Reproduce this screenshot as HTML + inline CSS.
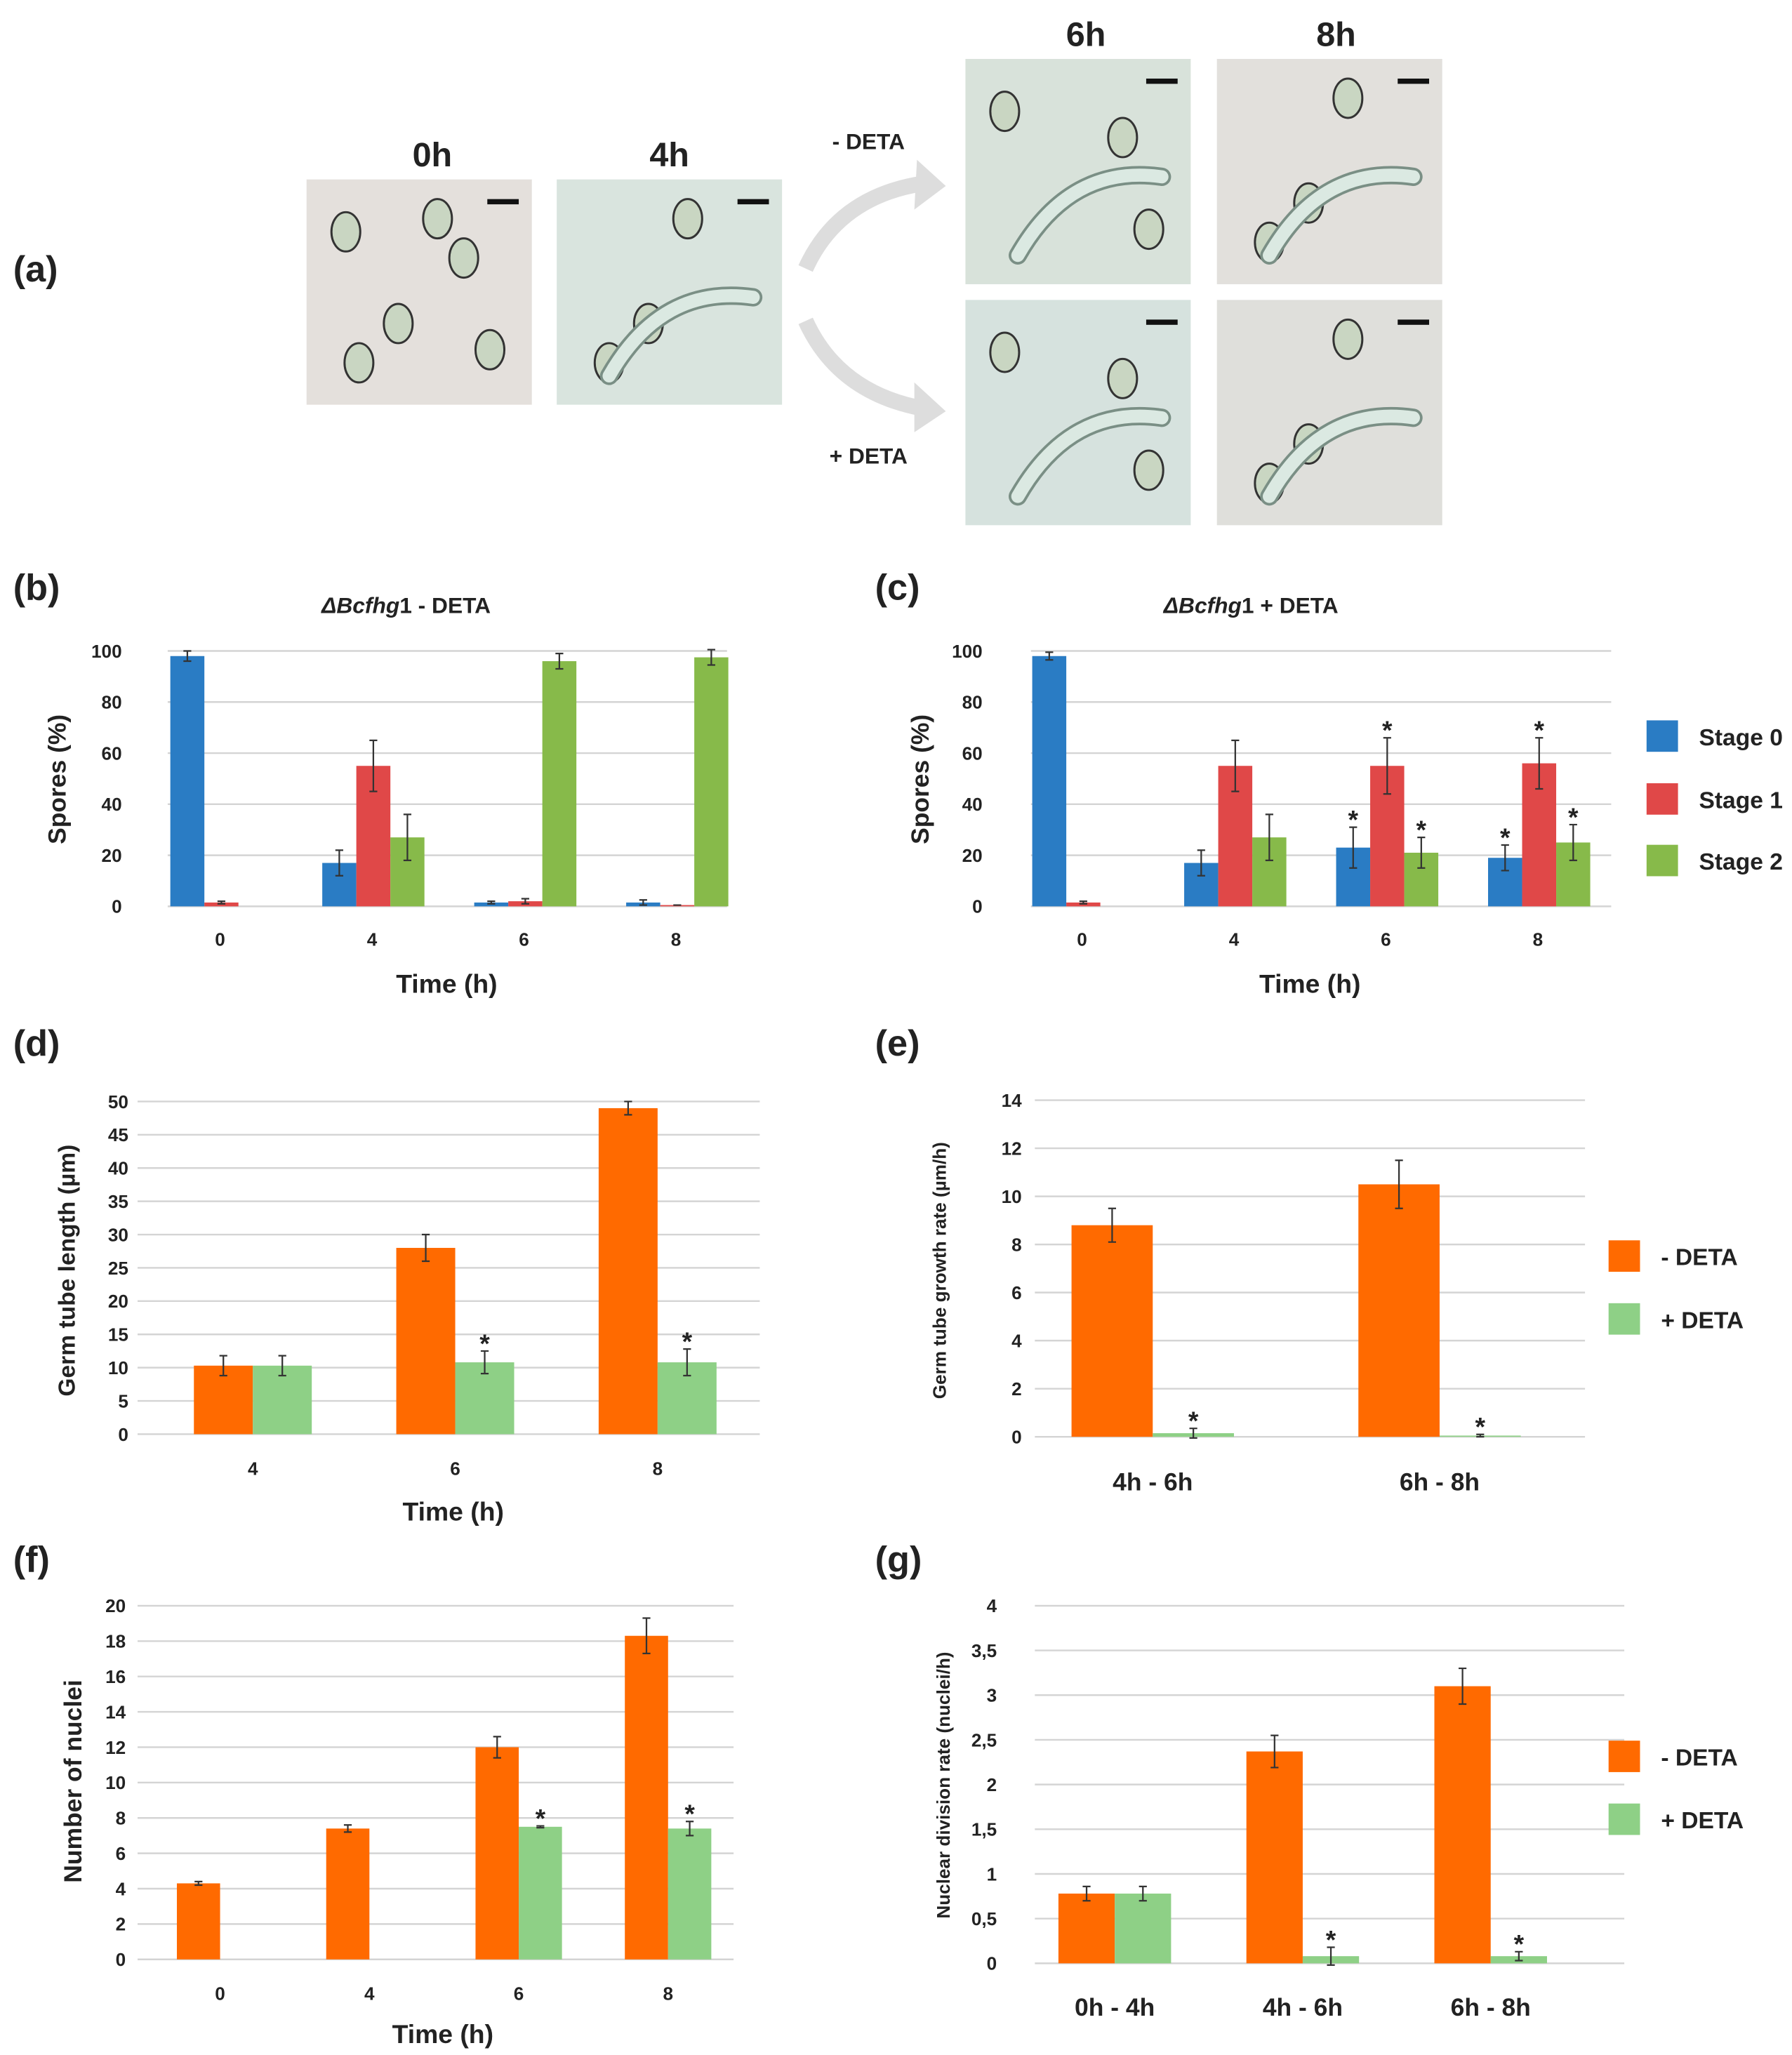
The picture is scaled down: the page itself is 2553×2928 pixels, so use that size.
<!DOCTYPE html>
<html><head><meta charset="utf-8">
<style>
html,body{margin:0;padding:0;background:#fff;}
svg{display:block;}
text{font-family:"Liberation Sans",sans-serif;font-weight:bold;fill:#222;}
</style></head>
<body>
<svg id="fig" width="2553" height="2928" viewBox="0 0 1368 1569" xmlns="http://www.w3.org/2000/svg">
<g id="panelA">
<text x="10" y="215" font-size="28" font-weight="normal">(a)</text>
<text x="330" y="127" font-size="26" text-anchor="middle">0h</text>
<text x="511" y="127" font-size="26" text-anchor="middle">4h</text>
<text x="829" y="35" font-size="26" text-anchor="middle">6h</text>
<text x="1020" y="35" font-size="26" text-anchor="middle">8h</text>
<text x="663" y="114" font-size="17" text-anchor="middle">- DETA</text>
<text x="663" y="354" font-size="17" text-anchor="middle">+ DETA</text>
<path d="M615,205 Q640,150 705,140" stroke="#ddd" stroke-width="12" fill="none"/>
<polygon points="700,122 722,142 698,160" fill="#ddd"/>
<path d="M615,245 Q640,300 705,312" stroke="#ddd" stroke-width="12" fill="none"/>
<polygon points="698,292 722,314 698,330" fill="#ddd"/>
</g>
<g id="charts"></g>
</svg>
<script>
const NS="http://www.w3.org/2000/svg";
const fig=document.getElementById('fig');
const A=document.getElementById('panelA');
const C=document.getElementById('charts');
function mk(tag,attrs,parent){const e=document.createElementNS(NS,tag);for(const k in attrs)e.setAttribute(k,attrs[k]);(parent||C).appendChild(e);return e;}
function tx(x,y,s,size,anchor,parent,extra){const e=mk('text',Object.assign({x:x,y:y,'font-size':size,'text-anchor':anchor||'middle'},extra||{}),parent);e.textContent=s;return e;}

/* micrographs */
const imgs=[[234,137,'#e4e0dc'],[425,137,'#d9e4de'],[737,45,'#d8e2da'],[929,45,'#e2e0dc'],[737,229,'#d6e2de'],[929,229,'#dfdfdb']];
imgs.forEach((im,i)=>{
 const g=mk('g',{},A);
 
 
 mk('rect',{x:im[0],y:im[1],width:172,height:172,fill:im[2]},g);
 const sp=[[30,40],[70,110],[120,60],[40,140],[140,130],[100,30]];
 sp.forEach((p,j)=>{ if((i+j)%2===0||i===0) mk('ellipse',{cx:im[0]+p[0],cy:im[1]+p[1],rx:11,ry:15,fill:'#c9d6c2',stroke:'#333','stroke-width':1.6},g);});
 if(i>=1){mk('path',{d:`M${im[0]+40},${im[1]+150} Q${im[0]+80},${im[1]+80} ${im[0]+150},${im[1]+90}`,stroke:'#7a8f85','stroke-width':14,fill:'none','stroke-linecap':'round'},g);
 mk('path',{d:`M${im[0]+40},${im[1]+150} Q${im[0]+80},${im[1]+80} ${im[0]+150},${im[1]+90}`,stroke:'#dbe9e2','stroke-width':10,fill:'none','stroke-linecap':'round'},g);}
 mk('rect',{x:im[0]+138,y:im[1]+15,width:24,height:4,fill:'#111'},g);
});

/* ===== chart data ===== */
const bCats=['0','4','6','8'];
const bStage0=[98,17,1.5,1.5];const bStage0Err=[2,5,0.5,1];
const bStage1=[1.5,55,2,0.5];const bStage1Err=[0.5,10,1,0];
const bStage2=[0,27,96,97.5];const bStage2Err=[0,9,3,3];
const bTicks=[0,20,40,60,80,100];

const cCats=['0','4','6','8'];
const cStage0=[98,17,23,19];const cStage0Err=[1.5,5,8,5];
const cStage1=[1.5,55,55,56];const cStage1Err=[0.5,10,11,10];
const cStage2=[0,27,21,25];const cStage2Err=[0,9,6,7];
const cStars0=[0,0,1,1];const cStars1=[0,0,1,1];const cStars2=[0,0,1,1];
const cTicks=[0,20,40,60,80,100];

const dCats=['4','6','8'];
const dMinus=[10.3,28,49];const dMinusErr=[1.5,2,1];
const dPlus=[10.3,10.8,10.8];const dPlusErr=[1.5,1.7,2];
const dStars=[0,1,1];
const dTicks=[0,5,10,15,20,25,30,35,40,45,50];

const eCats=['4h - 6h','6h - 8h'];
const eMinus=[8.8,10.5];const eMinusErr=[0.7,1];
const ePlus=[0.15,0.05];const ePlusErr=[0.2,0.05];
const eStars=[1,1];
const eTicks=[0,2,4,6,8,10,12,14];

const fCats=['0','4','6','8'];
const fMinus=[4.3,7.4,12,18.3];const fMinusErr=[0.1,0.2,0.6,1];
const fPlus=[0,0,7.5,7.4];const fPlusErr=[0,0,0.05,0.4];
const fStars=[0,0,1,1];
const fTicks=[0,2,4,6,8,10,12,14,16,18,20];

const gCats=['0h - 4h','4h - 6h','6h - 8h'];
const gMinus=[0.78,2.37,3.1];const gMinusErr=[0.08,0.18,0.2];
const gPlus=[0.78,0.08,0.08];const gPlusErr=[0.08,0.1,0.05];
const gStars=[0,1,1];
const gTicks=['0','0,5','1','1,5','2','2,5','3','3,5','4'];
const gTickVals=[0,0.5,1,1.5,2,2.5,3,3.5,4];

const BLUE='#2a7cc4',RED='#e04848',GREEN='#87ba4a',ORANGE='#ff6a00',LGREEN='#8ed086';

function chart(o){
 const g=mk('g',{});
 
 
 const y=v=>o.y0-(v-o.ymin)/(o.ymax-o.ymin)*(o.y0-o.y1);
 const x=i=>o.cx0+i*o.step;
 o.tickVals.forEach((v,i)=>{
  const l=mk('line',{x1:o.xl,x2:o.xr,y1:y(v),y2:y(v),stroke:'#d4d4d4','stroke-width':1.3},g);
  
  
  const t=tx(o.tickX,y(v)+5,o.tickLabels[i],o.tickSize||14,'end',g);
  
  
 });
 o.cats.forEach((c,i)=>{
  const t=tx(x(i),o.catY,c,o.catSize||14,'middle',g);
  
  
 });
 o.series.forEach((s,si)=>{
  s.vals.forEach((v,i)=>{
   const left=x(i)+o.off+si*o.bw;
   if(v>0){
    const r=mk('rect',{x:left,y:y(v),width:o.bw,height:o.y0-y(v),fill:s.color},g);
    
    
   }
   const e=s.err[i];
   if(e>0||v>0){
    const cx=left+o.bw/2;
    const p=mk('path',{d:`M${cx},${y(v-e)}V${y(v+e)}M${cx-3},${y(v-e)}h6M${cx-3},${y(v+e)}h6`,stroke:'#333','stroke-width':1.2,fill:'none'},g);
    
    
   }
   if(s.stars&&s.stars[i]){
    const st=tx(left+o.bw/2,y(v+e)+1,'*',20,'middle',g);
    
    
   }
  });
 });
 const xt=tx(o.xtX,o.xtY,o.xTitle,20,'middle',g);
 
 
 const yt=tx(0,0,o.yTitle,o.ytSize||19,'middle',g,{transform:`translate(${o.ytX},${o.ytY}) rotate(-90)`});
 
 
 const pl=tx(10,o.plY,o.panel,28,'start',g,{'font-weight':'normal'});
 
 
 if(o.title){
  const ti=mk('text',{x:o.titleX,y:o.titleY,'font-size':17,'text-anchor':'middle'},g);
  ti.innerHTML='<tspan font-style="italic">ΔBcfhg</tspan>1 '+o.title;
  
  
 }
 if(o.plX!==undefined) pl.setAttribute('x',o.plX);
 return g;
}
function legend(items,x,ys,sz){
 items.forEach((it,i)=>{
  const g=mk('g',{});
  
  
  mk('rect',{x:x,y:ys[i]-12,width:24,height:24,fill:it[1]},g);
  tx(x+40,ys[i]+7,it[0],sz||18,'start',g);
 });
}

chart({name:'chart-b',panel:'(b)',plY:458,title:'- DETA',titleX:310,titleY:468,cats:bCats,cx0:168,step:116,off:-38,bw:26,
 series:[{key:'stage0',vals:bStage0,err:bStage0Err,color:BLUE},{key:'stage1',vals:bStage1,err:bStage1Err,color:RED},{key:'stage2',vals:bStage2,err:bStage2Err,color:GREEN}],
 ymin:0,ymax:100,y0:692,y1:497,xl:128,xr:555,tickVals:bTicks,tickLabels:bTicks.map(String),tickX:93,catY:722,
 xTitle:'Time (h)',xtX:341,xtY:758,yTitle:'Spores (%)',ytX:50,ytY:595});
chart({name:'chart-c',panel:'(c)',plX:668,plY:458,title:'+ DETA',titleX:955,titleY:468,cats:cCats,cx0:826,step:116,off:-38,bw:26,
 series:[{key:'stage0',vals:cStage0,err:cStage0Err,color:BLUE,stars:cStars0},{key:'stage1',vals:cStage1,err:cStage1Err,color:RED,stars:cStars1},{key:'stage2',vals:cStage2,err:cStage2Err,color:GREEN,stars:cStars2}],
 ymin:0,ymax:100,y0:692,y1:497,xl:787,xr:1230,tickVals:cTicks,tickLabels:cTicks.map(String),tickX:750,catY:722,
 xTitle:'Time (h)',xtX:1000,xtY:758,yTitle:'Spores (%)',ytX:709,ytY:595});
legend([['Stage 0',BLUE],['Stage 1',RED],['Stage 2',GREEN]],1257,[562,610,657]);

chart({name:'chart-d',panel:'(d)',plY:806,cats:dCats,cx0:193,step:154.5,off:-45,bw:45,
 series:[{key:'minus-deta',vals:dMinus,err:dMinusErr,color:ORANGE},{key:'plus-deta',vals:dPlus,err:dPlusErr,color:LGREEN,stars:dStars}],
 ymin:0,ymax:50,y0:1095,y1:841,xl:105,xr:580,tickVals:dTicks,tickLabels:dTicks.map(String),tickX:98,catY:1126,
 xTitle:'Time (h)',xtX:346,xtY:1161,yTitle:'Germ tube length (µm)',ytX:57,ytY:970,ytSize:18});
chart({name:'chart-e',panel:'(e)',plX:668,plY:806,cats:eCats,cx0:880,step:219,off:-62,bw:62,
 series:[{key:'minus-deta',vals:eMinus,err:eMinusErr,color:ORANGE},{key:'plus-deta',vals:ePlus,err:ePlusErr,color:LGREEN,stars:eStars}],
 ymin:0,ymax:14,y0:1097,y1:840,xl:790,xr:1210,tickVals:eTicks,tickLabels:eTicks.map(String),tickX:780,catY:1138,catSize:19,
 xTitle:'',xtX:1000,xtY:1160,yTitle:'Germ tube growth rate (µm/h)',ytX:722,ytY:970,ytSize:14});
legend([['- DETA',ORANGE],['+ DETA',LGREEN]],1228,[959,1007]);

chart({name:'chart-f',panel:'(f)',plY:1200,cats:fCats,cx0:168,step:114,off:-33,bw:33,
 series:[{key:'minus-deta',vals:fMinus,err:fMinusErr,color:ORANGE},{key:'plus-deta',vals:fPlus,err:fPlusErr,color:LGREEN,stars:fStars}],
 ymin:0,ymax:20,y0:1496,y1:1226,xl:105,xr:560,tickVals:fTicks,tickLabels:fTicks.map(String),tickX:96,catY:1527,
 xTitle:'Time (h)',xtX:338,xtY:1560,yTitle:'Number of nuclei',ytX:62,ytY:1360});
chart({name:'chart-g',panel:'(g)',plX:668,plY:1200,cats:gCats,cx0:851,step:143.5,off:-43,bw:43,
 series:[{key:'minus-deta',vals:gMinus,err:gMinusErr,color:ORANGE},{key:'plus-deta',vals:gPlus,err:gPlusErr,color:LGREEN,stars:gStars}],
 ymin:0,ymax:4,y0:1499,y1:1226,xl:790,xr:1240,tickVals:gTickVals,tickLabels:gTicks,tickX:761,catY:1539,catSize:19,
 xTitle:'',xtX:1000,xtY:1560,yTitle:'Nuclear division rate (nuclei/h)',ytX:725,ytY:1363,ytSize:14});
legend([['- DETA',ORANGE],['+ DETA',LGREEN]],1228,[1341,1389]);
</script>
</body></html>
